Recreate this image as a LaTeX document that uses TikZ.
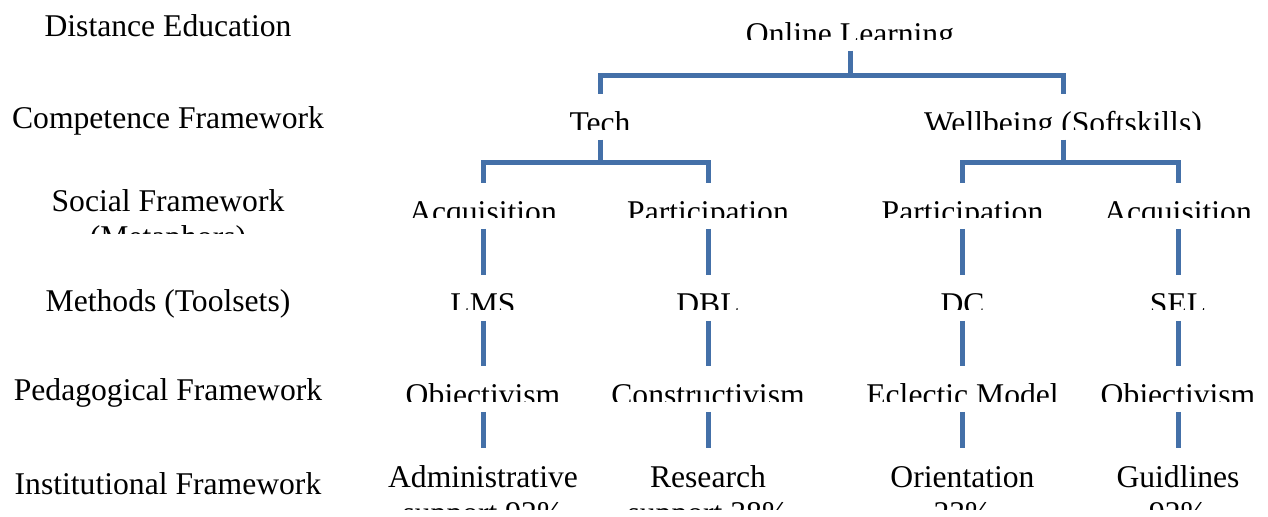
\documentclass[tikz,border=0pt]{standalone}
\usepackage{fontspec}
\setmainfont{Liberation Serif}
\definecolor{linkblue}{RGB}{68,112,168}

\begin{document}
\begin{tikzpicture}[
    font=\fontsize{18}{20.7}\selectfont,
    link/.style={draw=linkblue, line width=0.1cm},
    lvl/.style={anchor=base, inner sep=0pt, text height=0.78cm, text depth=0.13cm, align=center},
    lvltwo/.style={lvl, text height=1.51cm},
    rowlabel/.style={anchor=base, inner sep=0pt, align=center}
]

    \useasboundingbox (0,0) rectangle (25.36,10.32);

    \begin{scope}
        % the text boxes cut off the bottom of their text
        \clip (0,5.66) rectangle (7.4,10.32)
              (0,0) rectangle (7.4,5.2)
              (7.4,9.54) rectangle (25.36,10.32)
              (7.4,7.74) rectangle (25.36,9.0)
              (7.4,5.98) rectangle (25.36,7.2)
              (7.4,4.14) rectangle (25.36,5.4)
              (7.4,2.30) rectangle (25.36,3.6)
              (7.4,0.14) rectangle (25.36,1.8);

        % Levels
        \node[rowlabel] (lDist) at (3.36,9.60) {Distance Education};
        \node[rowlabel] (lComp) at (3.36,7.76) {Competence Framework};
        \node[rowlabel] (lSoc)  at (3.36,5.37) {Social Framework\\(Metaphors)};
        \node[rowlabel] (lMeth) at (3.36,4.10) {Methods (Toolsets)};
        \node[rowlabel] (lPed)  at (3.36,2.32) {Pedagogical Framework};
        \node[rowlabel] (lInst) at (3.36,0.44) {Institutional Framework};

        % Root and competences
        \node[lvl] (ol)   at (17.00,9.44) {Online Learning};
        \node[lvl] (tech) at (12.00,7.66) {Tech};
        \node[lvl] (well) at (21.26,7.66) {Wellbeing (Softskills)};

        % Metaphors
        \node[lvl] (acqT)  at (9.66,5.88)  {Acquisition};
        \node[lvl] (partT) at (14.16,5.88) {Participation};
        \node[lvl] (partW) at (19.25,5.88) {Participation};
        \node[lvl] (acqW)  at (23.56,5.88) {Acquisition};

        % Toolsets
        \node[lvl] (lms) at (9.66,4.04)  {LMS};
        \node[lvl] (dbl) at (14.16,4.04) {DBL};
        \node[lvl] (dc)  at (19.25,4.04) {DC};
        \node[lvl] (sel) at (23.56,4.04) {SEL};

        % Pedagogy
        \node[lvl] (objT) at (9.66,2.22)  {Objectivism};
        \node[lvl] (cons) at (14.16,2.22) {Constructivism};
        \node[lvl] (ecl)  at (19.25,2.22) {Eclectic Model};
        \node[lvl] (objW) at (23.56,2.22) {Objectivism};

        % Institution (base sits on the second line)
        \node[lvltwo] (adm) at (9.66,-0.15)  {Administrative\\support 92\%};
        \node[lvltwo] (res) at (14.16,-0.15) {Research\\support 38\%};
        \node[lvltwo] (ori) at (19.25,-0.15) {Orientation\\23\%};
        \node[lvltwo] (gui) at (23.56,-0.15) {Guidlines\\92\%};
    \end{scope}

    % Branches
    \draw[link] (ol.south) -- ++(0,-0.49) -| (tech.north);
    \draw[link] (ol.south) -- ++(0,-0.49) -| (well.north);
    \draw[link] (tech.south) -- ++(0,-0.46) -| (acqT.north);
    \draw[link] (tech.south) -- ++(0,-0.46) -| (partT.north);
    \draw[link] (well.south) -- ++(0,-0.46) -| (partW.north);
    \draw[link] (well.south) -- ++(0,-0.46) -| (acqW.north);

    % Columns
    \draw[link] (acqT.south) -- (lms.north);
    \draw[link] (lms.south) -- (objT.north);
    \draw[link] (objT.south) -- (adm.north);
    \draw[link] (partT.south) -- (dbl.north);
    \draw[link] (dbl.south) -- (cons.north);
    \draw[link] (cons.south) -- (res.north);
    \draw[link] (partW.south) -- (dc.north);
    \draw[link] (dc.south) -- (ecl.north);
    \draw[link] (ecl.south) -- (ori.north);
    \draw[link] (acqW.south) -- (sel.north);
    \draw[link] (sel.south) -- (objW.north);
    \draw[link] (objW.south) -- (gui.north);

\end{tikzpicture}
\end{document}
